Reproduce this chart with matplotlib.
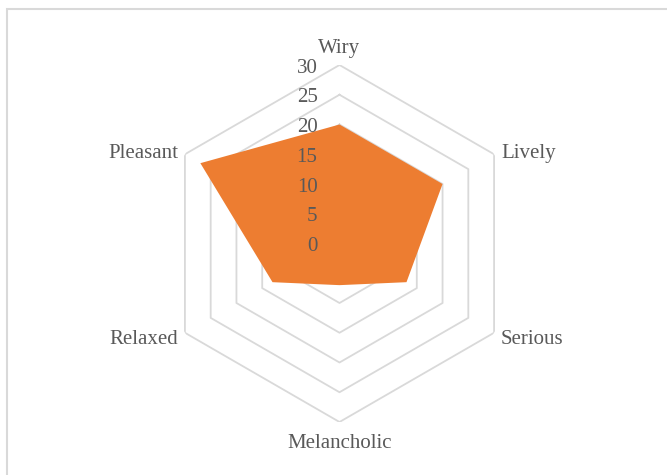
import matplotlib.pyplot as plt
import numpy as np
from matplotlib.patches import Rectangle
from matplotlib.transforms import offset_copy

plt.rcParams['font.family'] = ['Liberation Serif', 'DejaVu Serif']

# data
categories = ['Wiry', 'Lively', 'Serious', 'Melancholic', 'Relaxed', 'Pleasant']
values = [20, 20, 13, 7, 13, 27]
ticks = [0, 5, 10, 15, 20, 25, 30]

fill_color = '#ED7D31'
grid_color = '#D9D9D9'
text_color = '#595959'

fig = plt.figure(figsize=(6.67, 4.75), dpi=100)
fig.patch.set_facecolor('white')

# chart area border (cut off at right and bottom like the original)
fig.patches.append(Rectangle((7 / 667, -0.05), 1.1, 1 - 9 / 475 + 0.05,
                             transform=fig.transFigure, fill=False,
                             edgecolor='#D9D9D9', linewidth=1.5))

ax = fig.add_axes([161 / 667, 53 / 475, 357 / 667, 357 / 475], projection='polar')
ax.set_theta_offset(np.pi / 2)
ax.set_theta_direction(-1)
ax.set_ylim(0, 30)
ax.grid(False)
ax.spines['polar'].set_visible(False)
ax.set_xticks([])
ax.set_yticks([])
ax.patch.set_alpha(0)

n = len(categories)
angles = np.linspace(0, 2 * np.pi, n, endpoint=False)
closed = np.append(angles, angles[0])

# hexagon grid
for t in ticks[1:]:
    ax.plot(closed, [t] * (n + 1), color=grid_color, linewidth=1.3, zorder=1)

# filled series
vals = np.append(values, values[0])
ax.fill(closed, vals, color=fill_color, linewidth=0, zorder=2)

# value labels left of the vertical axis
tick_tr = offset_copy(ax.transData, fig=fig, x=-22, y=-3, units='dots')
for t in ticks:
    ax.text(0, t, str(t), transform=tick_tr, ha='right', va='center',
            fontsize=15, color=text_color, zorder=3)

# category labels
for ang, lab in zip(angles, categories):
    deg = np.degrees(ang) % 360
    if deg < 1:
        ha, va, dx, dy = 'center', 'bottom', 0, 7
    elif abs(deg - 180) < 1:
        ha, va, dx, dy = 'center', 'top', 0, -12
    elif deg < 90:
        ha, va, dx, dy = 'left', 'center', 7, 1
    elif deg < 180:
        ha, va, dx, dy = 'left', 'center', 7, -7
    elif deg < 270:
        ha, va, dx, dy = 'right', 'center', -7, -7
    else:
        ha, va, dx, dy = 'right', 'center', -7, 1
    tr = offset_copy(ax.transData, fig=fig, x=dx, y=dy, units='dots')
    ax.text(ang, 30, lab, transform=tr, ha=ha, va=va,
            fontsize=15, color=text_color)

plt.savefig('out.png', dpi=100)
